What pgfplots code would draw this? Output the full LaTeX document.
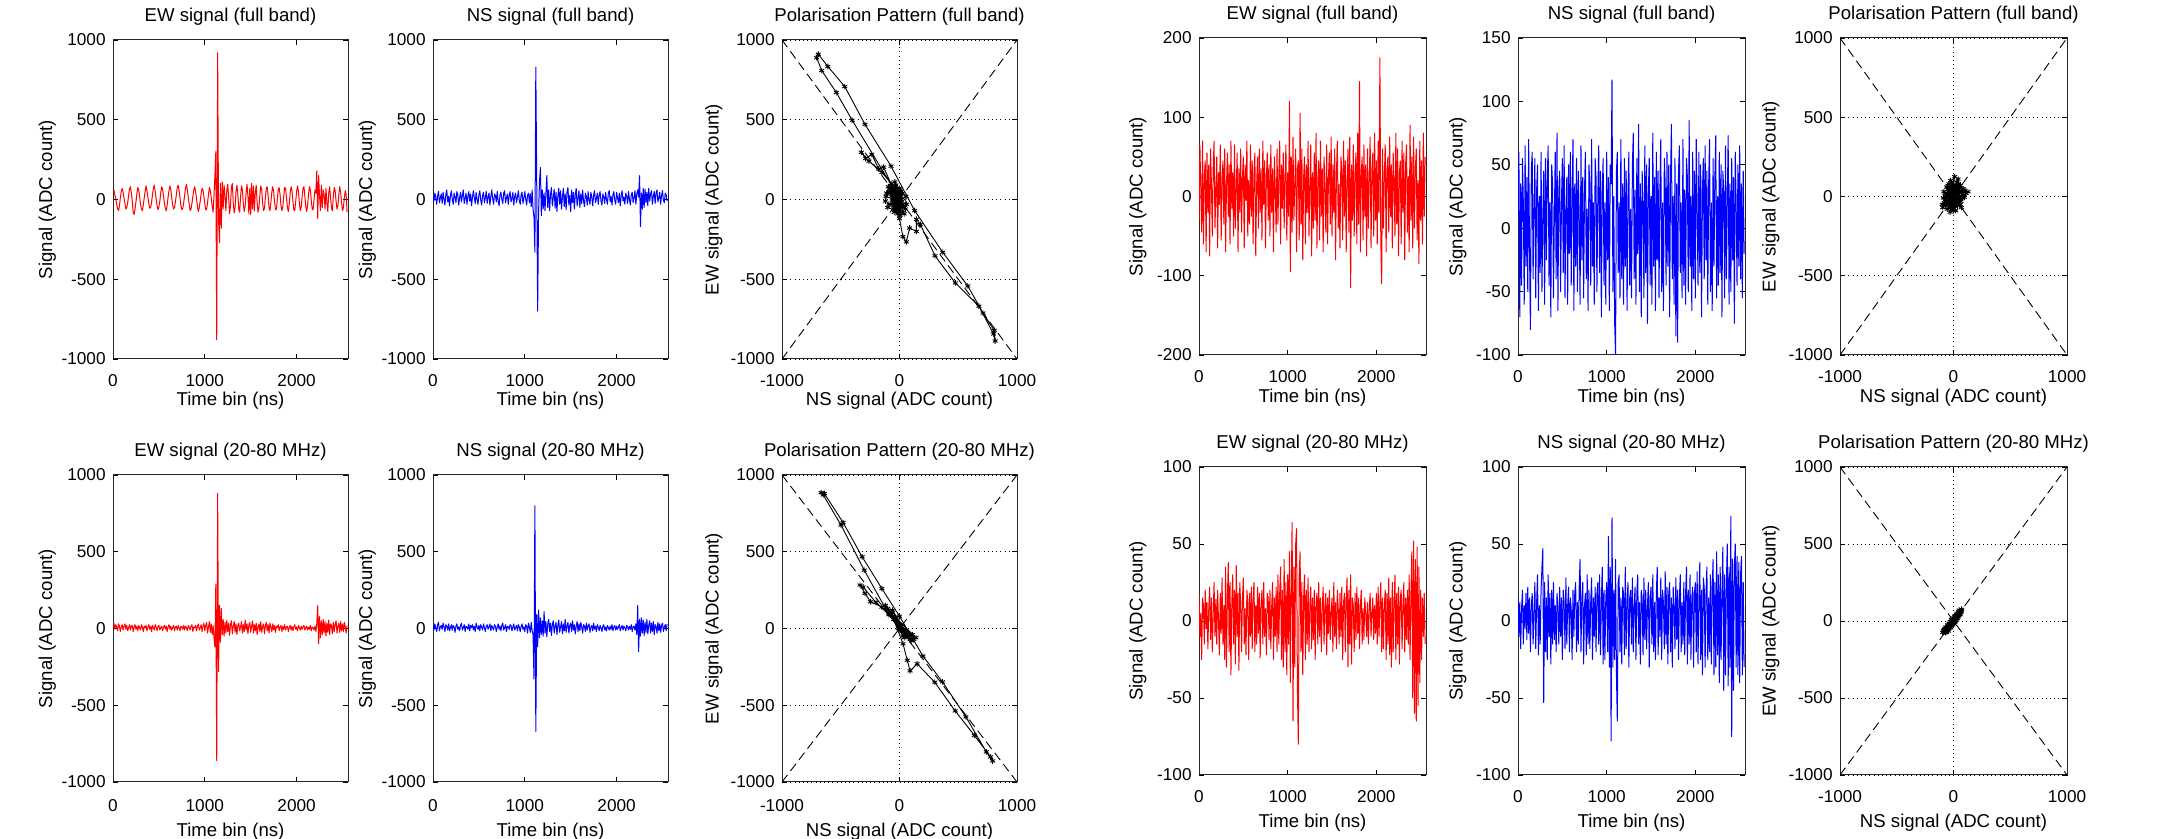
\documentclass[border=0pt]{standalone}
\usepackage{fontspec}
\setmainfont{Liberation Sans}
\usepackage{pgfplots}
\usepackage{pgfplotstable}
\pgfplotsset{compat=1.18}

% Antenna traces, left event: time (ns), EW full band, NS full band, EW 20-80 MHz, NS 20-80 MHz
\pgfplotstableread{
t ewf nsf ewb nsb
0 45 20 20 15
10 60 -10 35 -10
20 30 40 -5 30
30 5 15 25 5
40 -30 -30 10 -20
50 -55 25 -15 25
60 -70 50 30 40
70 -40 -20 15 -15
80 10 10 -20 10
90 50 35 10 20
100 70 -25 25 -5
110 45 45 -10 35
120 10 5 15 10
130 -25 -35 30 -20
140 -60 30 -5 25
150 -50 60 20 15
160 -20 -15 -15 -10
170 25 20 5 30
180 65 -40 25 -15
190 80 25 -10 5
200 40 55 15 25
210 -10 0 20 -10
220 -80 -30 -20 20
230 -95 40 10 10
240 -60 15 25 -25
250 -15 -20 -5 15
260 35 50 15 30
270 75 30 -15 -5
280 60 -35 20 10
290 20 10 5 -15
300 -30 45 -10 20
310 -60 -15 25 35
320 -70 25 10 -10
330 -35 60 -20 5
340 10 -25 15 25
350 50 5 5 -20
360 85 40 20 15
370 55 -30 -15 10
380 15 20 10 -5
390 -25 50 25 30
400 -55 -10 -5 -15
410 -50 35 15 20
420 -20 -40 -20 5
430 30 15 20 25
440 70 55 5 -10
450 90 10 -10 15
460 50 -25 25 -20
470 5 45 10 35
480 -40 0 -15 10
490 -65 -30 15 -5
500 -45 30 20 20
510 -10 55 -10 -15
520 40 -5 5 25
530 80 -35 15 10
540 65 25 -15 -10
550 25 45 10 30
560 -20 -20 20 5
570 -55 10 -5 -20
580 -70 50 15 15
590 -35 -25 -20 25
600 15 15 10 -5
610 55 40 25 10
620 85 -35 -5 30
630 60 20 15 -15
640 10 60 -10 20
650 -35 5 5 5
660 -60 -30 20 -10
670 -50 35 -15 25
680 -15 25 10 15
690 30 -15 15 -20
700 75 50 -10 10
710 90 -10 20 30
720 55 -40 5 -5
730 10 30 -15 15
740 -40 45 15 -15
750 -65 0 10 20
760 -55 -25 -5 35
770 -20 40 20 -10
780 25 55 -10 5
790 70 -20 15 25
800 95 10 5 -20
810 60 35 -15 15
820 15 -30 20 10
830 -30 25 10 -5
840 -70 50 -10 25
850 -60 -15 15 20
860 -25 5 25 -15
870 20 45 -20 10
880 60 -35 10 30
890 80 20 5 -10
900 50 40 20 5
910 5 -20 -15 20
920 -45 15 15 -15
930 -75 55 30 25
940 -50 -5 -10 10
950 -10 -30 5 -20
960 35 30 25 15
970 70 45 -20 30
980 60 -25 15 -5
990 20 10 35 10
1000 -25 50 -15 -20
1010 -65 0 20 25
1020 -60 -35 40 15
1030 -20 25 -30 -30
1040 30 40 10 35
1050 75 -20 45 10
1060 55 35 -25 -25
1070 10 -45 30 40
1080 -40 60 -40 -15
1090 -80 -60 20 -40
1100 20 -110 -60 -330
1110 150 -330 -120 800
1120 300 830 290 -670
1130 -880 100 -860 90
1140 920 -700 880 -120
1150 -130 -80 -280 120
1160 -270 110 150 -60
1170 100 200 -90 70
1180 -180 -100 130 -40
1190 110 60 -40 50
1200 -60 -60 60 -50
1210 90 40 -50 110
1220 20 -70 40 -30
1230 -70 40 -30 45
1240 60 150 55 -55
1250 95 -50 -20 30
1260 10 60 35 60
1270 -90 -70 -45 -20
1280 -40 30 25 35
1290 80 75 50 -45
1300 100 -40 -35 25
1310 -20 10 15 50
1320 -85 65 45 -30
1330 -50 -55 -25 15
1340 50 45 30 40
1350 90 -75 -40 -40
1360 30 20 20 20
1370 -60 70 35 55
1380 -80 -30 -15 -25
1390 20 55 10 10
1400 85 -60 45 45
1410 60 15 -30 -35
1420 -30 70 25 30
1430 -75 -45 -20 -15
1440 -40 35 55 60
1450 40 -65 -10 -25
1460 95 50 30 15
1470 20 75 -35 40
1480 -90 -35 20 -30
1490 70 25 40 20
1500 -95 -75 -25 35
1510 100 60 15 -20
1520 -60 -20 50 50
1530 85 45 -30 -10
1540 -70 -60 25 25
1550 40 30 -15 -35
1560 90 70 35 15
1570 -20 -40 -40 45
1580 -80 10 10 -20
1590 -50 55 30 30
1600 30 -50 -20 -15
1610 85 35 45 40
1620 60 -25 -25 10
1630 -20 60 15 -30
1640 -70 -10 30 25
1650 -55 -45 -35 15
1660 10 40 20 -20
1670 70 20 40 35
1680 80 -35 -15 -10
1690 20 50 25 20
1700 -50 -5 -30 30
1710 -70 -30 35 -25
1720 -20 45 10 10
1730 45 15 -20 20
1740 80 -40 30 -15
1750 50 30 -10 35
1760 -15 55 20 -5
1770 -65 -20 -25 15
1780 -60 5 15 -20
1790 0 40 5 25
1800 60 -30 25 10
1810 75 25 -15 -15
1820 30 50 10 20
1830 -40 -10 20 5
1840 -70 -35 -20 -20
1850 -45 35 15 15
1860 20 15 -5 25
1870 75 -25 25 -10
1880 70 45 -10 10
1890 10 0 10 -15
1900 -50 -30 15 20
1910 -75 40 -20 5
1920 -30 55 5 -10
1930 40 -15 20 15
1940 80 20 -10 -5
1950 55 -35 15 25
1960 -10 30 -15 -15
1970 -65 50 10 10
1980 -70 -5 25 20
1990 -15 -30 -5 -10
2000 50 45 10 15
2010 85 10 -15 -5
2020 50 -20 20 10
2030 -20 40 5 25
2040 -70 -40 -10 -15
2050 -50 25 15 5
2060 15 55 -5 20
2070 70 -10 10 -10
2080 80 15 20 15
2090 20 -30 -10 5
2100 -45 40 5 -15
2110 -75 20 15 20
2120 -35 -25 -10 10
2130 35 50 10 -10
2140 80 0 -5 15
2150 60 -35 20 -5
2160 -5 30 -15 25
2170 -60 45 10 -20
2180 -65 -20 5 10
2190 0 10 -10 15
2200 60 55 15 -10
2210 40 -30 -20 30
2220 180 35 30 -40
2230 -120 60 150 150
2240 150 15 -100 -150
2250 20 150 80 60
2260 -70 -170 -60 -50
2270 90 40 50 70
2280 -50 -60 -40 -30
2290 60 70 60 55
2300 30 -50 -30 -45
2310 -60 65 45 40
2320 70 -20 -50 -25
2330 -20 45 35 60
2340 -75 -40 -25 -35
2350 40 70 55 20
2360 80 -10 -40 50
2370 10 35 30 -30
2380 -55 55 20 35
2390 -70 -30 -35 -20
2400 20 20 40 45
2410 75 50 -20 -40
2420 55 -25 25 25
2430 -10 40 50 15
2440 -60 60 -30 -30
2450 -40 -15 15 40
2460 30 10 35 -15
2470 80 45 -25 30
2480 45 -30 45 -25
2490 -20 25 -15 20
2500 -70 55 30 35
2510 -50 -5 -20 -20
2520 10 -20 40 10
2530 55 40 10 25
2540 30 30 -30 -15
2550 -80 -10 20 30
}\lefttab

% Antenna traces, right event: same columns
\pgfplotstableread{
t ewf nsf ewb nsb
0 -30 10 18 15
10 65 60 -10 -10
20 10 -70 5 12
30 -45 35 -25 -18
40 70 -45 15 8
50 -60 55 10 20
60 25 20 -15 -15
70 45 -60 20 10
80 -70 65 -5 -5
90 55 -30 12 18
100 -20 40 -18 -12
110 40 -50 8 22
120 -75 70 22 -8
130 60 -20 -12 15
140 15 -80 15 -20
150 -50 45 -20 10
160 35 60 5 18
170 70 -40 25 -15
180 -40 15 -10 5
190 5 55 14 25
200 50 -55 -15 -18
210 -65 30 20 12
220 30 50 0 30
230 -10 -65 -22 -22
240 65 25 18 10
250 -55 -35 -8 -15
260 20 60 28 20
270 45 -50 -15 35
280 -35 10 10 47
290 60 45 -25 -53
300 -70 -60 35 25
310 15 55 -30 -20
320 55 -25 15 15
330 -25 40 38 -25
340 40 65 -20 30
350 -60 -45 25 -10
360 70 20 -35 18
370 -15 -70 12 -28
380 30 50 30 20
390 -50 35 -15 -15
400 65 -55 20 25
410 -40 10 -28 -12
420 10 60 36 10
430 55 -40 -10 -20
440 -70 75 18 18
450 35 -65 -32 8
460 -20 30 25 -15
470 60 45 10 22
480 -45 -50 -20 -10
490 25 20 15 15
500 50 55 28 -25
510 -65 -35 -15 20
520 40 65 8 12
530 -5 -55 -22 -18
540 70 15 20 28
550 -50 40 12 -15
560 20 -60 -25 10
570 -35 50 18 22
580 65 -20 -10 -20
590 -25 60 22 15
600 45 -45 -18 8
610 -60 25 15 -25
620 30 70 25 20
630 55 -65 -20 -10
640 -75 35 10 18
650 15 -30 -15 25
660 50 55 22 -20
670 -40 -50 -8 12
680 60 45 18 -15
690 -20 10 -24 22
700 35 -60 12 40
710 -55 65 20 -20
720 70 -25 -15 15
730 -10 40 25 25
740 45 -55 -10 -28
750 -65 30 8 10
760 25 60 -22 18
770 55 -40 18 -22
780 -30 15 15 30
790 40 -65 -12 -15
800 -50 50 20 20
810 65 35 -18 -18
820 -20 -45 10 12
830 35 70 25 28
840 -70 -30 -25 -25
850 50 20 15 15
860 10 -60 -10 -10
870 -45 55 22 22
880 60 40 -20 -20
890 -35 -50 30 18
900 25 25 -15 25
910 70 65 18 -15
920 -60 -35 35 30
930 40 45 -25 -22
940 -15 -70 20 12
950 55 30 -30 35
960 -40 55 40 -28
970 20 -45 -20 20
980 65 20 25 -25
990 -55 -60 -35 15
1000 30 60 30 25
1010 -25 -25 -15 -20
1020 120 40 45 55
1030 -95 -65 -40 -30
1040 50 50 20 35
1050 -45 35 64 -78
1060 75 117 -65 67
1070 -30 -50 35 -30
1080 15 25 -30 20
1090 60 -75 50 -25
1100 -70 -100 60 40
1110 35 45 -45 -35
1120 45 60 -80 -65
1130 -55 -35 30 25
1140 105 20 45 30
1150 -35 -55 -20 -20
1160 60 70 25 15
1170 -80 -40 -35 -28
1180 25 35 15 22
1190 50 -60 30 18
1200 -60 55 -25 -22
1210 40 -30 20 35
1220 -20 45 -15 -18
1230 70 -65 28 12
1240 -50 25 -20 25
1250 15 60 10 -30
1260 65 -45 22 15
1270 -75 15 -18 20
1280 30 -55 15 -15
1290 -40 50 -12 28
1300 55 75 20 -20
1310 -30 -40 -25 10
1320 80 30 12 22
1330 -65 -60 18 -25
1340 20 55 -15 18
1350 45 -20 25 30
1360 -55 82 -10 -15
1370 70 -50 15 12
1380 -25 35 -20 -28
1390 35 -70 8 20
1400 -70 45 22 15
1410 50 20 -15 -22
1420 10 -55 10 28
1430 -45 65 18 -12
1440 65 -35 -22 20
1450 -60 50 15 -18
1460 25 -75 -8 10
1470 55 30 20 25
1480 -35 55 -12 -30
1490 75 -45 5 15
1500 -50 25 15 22
1510 40 -60 -20 -15
1520 -20 75 25 30
1530 60 -30 -10 -20
1540 -80 40 12 12
1550 30 -65 -18 -25
1560 70 60 20 18
1570 -40 -25 8 35
1580 15 45 -15 -22
1590 -65 -55 18 15
1600 50 30 -10 -10
1610 35 70 22 28
1620 -55 -50 -25 -25
1630 70 20 12 20
1640 -25 -65 18 12
1650 45 55 -20 -18
1660 -70 35 15 32
1670 20 -45 28 -15
1680 60 60 -30 22
1690 -45 -30 20 -28
1700 75 50 -15 18
1710 -115 -70 30 25
1720 40 40 -28 -20
1730 -30 82 15 15
1740 65 -40 10 -30
1750 -50 25 -20 22
1760 25 -60 18 10
1770 55 55 -12 -18
1780 -60 -85 22 28
1790 80 35 -8 -12
1800 -35 -90 15 20
1810 145 45 -18 -25
1820 -70 65 10 15
1830 30 -35 20 30
1840 50 20 -15 -20
1850 -55 -55 8 12
1860 65 70 -12 -15
1870 -25 -45 15 25
1880 40 30 5 -22
1890 -75 -60 -10 18
1900 60 55 12 35
1910 -40 40 -15 -28
1920 20 -50 8 20
1930 75 85 18 -15
1940 -65 -30 -10 30
1950 35 25 5 -25
1960 55 -65 15 15
1970 -50 60 -12 22
1980 80 -40 10 -30
1990 -30 45 -8 18
2000 45 -55 18 25
2010 -60 70 -15 -20
2020 70 20 22 32
2030 -20 -45 -10 -28
2040 175 60 12 15
2050 -55 -35 25 38
2060 -110 50 -20 -25
2070 60 -70 15 20
2080 -40 30 -18 -35
2090 25 55 10 28
2100 65 -40 20 22
2110 -70 65 -25 -30
2120 35 -25 18 18
2130 50 45 -15 35
2140 -45 -60 28 -25
2150 75 35 -22 15
2160 -25 70 15 -20
2170 40 -50 -30 30
2180 -65 20 25 -28
2190 55 -65 -20 22
2200 20 55 12 40
2210 -50 -30 30 -35
2220 80 40 -25 25
2230 -35 73 18 -30
2240 60 -55 -15 45
2250 -75 25 22 -22
2260 30 -45 -28 30
2270 45 60 15 -40
2280 -60 -35 20 35
2290 70 50 -18 -25
2300 -20 -70 10 20
2310 55 45 25 48
2320 -80 30 -20 -45
2330 40 -55 15 30
2340 65 65 -12 -35
2350 -45 -40 20 25
2360 25 20 -15 50
2370 -70 73 30 -42
2380 90 -60 -25 35
2390 -30 35 18 -30
2400 50 -50 45 68
2410 -65 55 -50 -75
2420 75 -25 52 40
2430 -40 40 -60 -45
2440 35 -75 40 35
2450 60 60 -65 50
2460 -55 20 48 -30
2470 20 -45 -55 42
2480 -85 50 35 -35
2490 70 -30 -40 38
2500 -30 65 20 -40
2510 45 -40 -25 30
2520 -60 35 15 42
2530 80 -55 -10 -35
2540 -25 45 18 25
2550 50 -20 -15 -30
}\righttab

% Polarisation trajectories (NS, EW) of the left event, full band
\pgfplotstableread{
ns ew
-10 20
-50 60
0 -40
-60 10
10 50
-40 -60
20 0
-70 70
-20 -30
-45 40
15 -80
-30 90
-5 -10
-65 30
5 60
-55 -20
30 -50
-35 80
-15 -90
-80 40
-110 40
-120 -10
-95 80
50 -60
55 20
-100 -50
40 -90
-135 203
-178 192
-236 283
-288 257
-325 296
-260 240
-150 170
-70 100
-20 30
-403 497
-538 671
-662 808
-705 889
-691 911
-610 834
-466 708
-294 471
-72 209
129 -70
368 -331
581 -542
711 -712
806 -821
814 -887
800 -843
676 -669
475 -523
302 -353
178 -157
144 -124
144 -200
86 -179
58 -266
29 -233
0 -120
-50 -40
0 70
-60 -10
10 20
-40 110
-10 -70
-75 50
20 -30
-30 60
5 -100
-55 0
25 40
-45 -80
-5 30
-65 80
-115 20
60 -30
-90 -30
15 -20
-25 50
-50 -60
0 10
-35 -5
}\polfull

% Polarisation trajectories (NS, EW) of the left event, 20-80 MHz
\pgfplotstableread{
ns ew
-60 80
20 -10
-100 130
40 -40
-20 50
80 -60
-80 110
10 20
120 -70
-40 60
60 -30
-120 150
30 -50
-10 30
100 -80
-70 90
50 -20
-30 70
140 -60
0 10
-150 140
-246 174
-294 228
-336 283
-310 270
-200 170
-90 90
-300 380
-498 674
-649 870
-667 885
-640 880
-480 690
-318 467
-150 260
0 80
200 -180
366 -348
565 -576
739 -804
793 -863
775 -837
637 -696
474 -537
300 -350
150 -230
90 -276
66 -207
30 -100
-50 60
70 -50
-90 100
20 -20
110 -40
-20 40
40 -60
-60 120
90 -70
-10 0
}\polband

% Polarisation (NS, EW) of the right event, full band
\pgfplotstableread{
ns ew
0 20
-40 -30
30 60
-60 10
50 -20
-20 90
10 -60
-80 -40
70 30
-30 50
20 -90
-50 70
90 10
-10 -20
40 110
-70 -60
60 -50
-40 30
20 -30
-90 -10
100 40
-20 -70
30 20
-60 60
128 30
-30 -98
10 125
-45 -20
55 55
-100 -50
80 -10
-15 40
35 -60
-75 20
45 80
-5 -45
25 15
-55 -80
110 20
-35 70
15 -15
-85 30
65 -30
-25 100
5 -75
-65 -25
85 50
-10 10
40 -40
-50 45
95 -5
-20 -50
30 90
-70 0
50 25
0 -90
-40 80
70 -70
-30 -10
20 45
-95 -70
60 70
-15 -30
45 -10
-60 -45
10 60
-30 15
35 35
-5 -5
}\polfullR

% Polarisation (NS, EW) of the right event, 20-80 MHz
\pgfplotstableread{
ns ew
-96 -74
-80 -55
-60 -70
-70 -40
-40 -50
-50 -25
-20 -30
-30 -5
0 -15
-10 10
20 5
10 30
40 25
30 50
60 45
50 70
72 76
55 40
35 15
15 -5
-5 -25
-25 -45
-45 -65
-65 -60
-85 -65
-75 -50
-55 -35
-35 -20
-15 -10
5 0
25 15
45 35
65 55
60 65
40 40
20 25
0 5
-20 -15
-40 -35
-60 -55
-80 -70
-90 -60
-70 -75
-50 -40
-30 -30
-10 -5
10 10
30 30
50 50
70 65
45 60
25 40
5 20
-15 0
-35 -15
-55 -45
-75 -55
-60 -45
-40 -20
-20 -5
0 -5
20 15
40 45
60 55
30 20
10 -10
-10 -20
-30 -40
-50 -55
-20 10
15 35
}\polbandR

\pgfplotsset{
  base/.style={
    scale only axis,
    anchor=south west,
    every axis title shift=0pt,
    tick align=inside, tick pos=both,
    major tick length=2.6pt,
    axis line style={line width=0.5pt, black!85},
    every tick/.style={black, line width=0.45pt},
    /pgf/number format/assume math mode=true,
    /pgf/number format/1000 sep={},
    tick label style={font=\fontsize{8.6}{9}\selectfont},
    yticklabel style={anchor=east, inner sep=0pt, xshift=-3.5pt},
    label style={font=\fontsize{9.3}{10}\selectfont},
    title style={font=\fontsize{9.3}{10}\selectfont, anchor=center},
    xlabel style={anchor=center},
    ylabel style={anchor=center},
    every axis plot/.append style={line join=round},
  },
  % column widths of the two events
  colL/.style={width=117.5pt},
  colR/.style={width=113.5pt},
  % row geometry: height, title, tick labels and x label placement
  rowLa/.style={base, colL, height=159.5pt,
    xticklabel style={anchor=center, inner sep=0pt, yshift=-11pt},
    title style={at={(axis description cs:0.5,1.072)}},
    xlabel style={at={(axis description cs:0.5,-0.132)}}},
  rowLb/.style={base, colL, height=153.5pt,
    xticklabel style={anchor=center, inner sep=0pt, yshift=-12pt},
    title style={at={(axis description cs:0.5,1.075)}},
    xlabel style={at={(axis description cs:0.5,-0.163)}}},
  rowRa/.style={base, colR, height=158.5pt,
    xticklabel style={anchor=center, inner sep=0pt, yshift=-11pt},
    title style={at={(axis description cs:0.5,1.073)}},
    xlabel style={at={(axis description cs:0.5,-0.135)}}},
  rowRb/.style={base, colR, height=154pt,
    xticklabel style={anchor=center, inner sep=0pt, yshift=-11pt},
    title style={at={(axis description cs:0.5,1.075)}},
    xlabel style={at={(axis description cs:0.5,-0.155)}}},
  ylab/.style={ylabel style={at={(axis description cs:-#1,0.5)}}},
  sig/.style={xmin=0, xmax=2560, xtick={0,1000,2000},
    xlabel={Time bin (ns)}, ylabel={Signal (ADC count)}},
  pol/.style={xmin=-1000, xmax=1000, ymin=-1000, ymax=1000,
    xtick={-1000,0,1000}, ytick={-1000,-500,0,500,1000},
    grid=major, grid style={black, line width=0.45pt, dash pattern=on 0.5pt off 1.6pt},
    xlabel={NS signal (ADC count)}, ylabel={EW signal (ADC count)}},
  diag/.style={black, line width=0.45pt, dash pattern=on 4.5pt off 2.5pt, mark=none},
  trace/.style={line width=0.5pt, mark=none},
  walk/.style={black, line width=0.45pt, mark=asterisk, mark size=1.4pt,
    mark options={line width=0.45pt}},
}

\begin{document}
\begin{tikzpicture}
\useasboundingbox (0,0) rectangle (1079pt,419.5pt);

%----------------- left event, full band -----------------
\begin{axis}[rowLa, sig, ylab=0.28, at={(56.5pt,240pt)}, ymin=-1000, ymax=1000,
  ytick={-1000,-500,0,500,1000}, title={EW signal (full band)}]
  \addplot[trace, red] table[x=t, y=ewf] {\lefttab};
\end{axis}
\begin{axis}[rowLa, sig, ylab=0.28, at={(216.5pt,240pt)}, ymin=-1000, ymax=1000,
  ytick={-1000,-500,0,500,1000}, title={NS signal (full band)}]
  \addplot[trace, blue] table[x=t, y=nsf] {\lefttab};
\end{axis}
\begin{axis}[rowLa, pol, ylab=0.29, at={(391pt,240pt)}, title={Polarisation Pattern (full band)}]
  \addplot[diag] coordinates {(-1000,-1000) (1000,1000)};
  \addplot[diag] coordinates {(-1000,1000) (1000,-1000)};
  \addplot[walk] table[x=ns, y=ew] {\polfull};
\end{axis}

%----------------- left event, 20-80 MHz -----------------
\begin{axis}[rowLb, sig, ylab=0.28, at={(56.5pt,28.5pt)}, ymin=-1000, ymax=1000,
  ytick={-1000,-500,0,500,1000}, title={EW signal (20-80 MHz)}]
  \addplot[trace, red] table[x=t, y=ewb] {\lefttab};
\end{axis}
\begin{axis}[rowLb, sig, ylab=0.28, at={(216.5pt,28.5pt)}, ymin=-1000, ymax=1000,
  ytick={-1000,-500,0,500,1000}, title={NS signal (20-80 MHz)}]
  \addplot[trace, blue] table[x=t, y=nsb] {\lefttab};
\end{axis}
\begin{axis}[rowLb, pol, ylab=0.29, at={(391pt,28.5pt)}, title={Polarisation Pattern (20-80 MHz)}]
  \addplot[diag] coordinates {(-1000,-1000) (1000,1000)};
  \addplot[diag] coordinates {(-1000,1000) (1000,-1000)};
  \addplot[walk] table[x=ns, y=ew] {\polband};
\end{axis}

%----------------- right event, full band -----------------
\begin{axis}[rowRa, sig, ylab=0.27, at={(599.5pt,242pt)}, ymin=-200, ymax=200,
  ytick={-200,-100,0,100,200}, title={EW signal (full band)}]
  \addplot[trace, red] table[x=t, y=ewf] {\righttab};
\end{axis}
\begin{axis}[rowRa, sig, ylab=0.265, at={(759pt,242pt)}, ymin=-100, ymax=150,
  ytick={-100,-50,0,50,100,150}, title={NS signal (full band)}]
  \addplot[trace, blue] table[x=t, y=nsf] {\righttab};
\end{axis}
\begin{axis}[rowRa, pol, ylab=0.305, at={(920pt,242pt)}, title={Polarisation Pattern (full band)}]
  \addplot[diag] coordinates {(-1000,-1000) (1000,1000)};
  \addplot[diag] coordinates {(-1000,1000) (1000,-1000)};
  \addplot[walk] table[x=ns, y=ew] {\polfullR};
\end{axis}

%----------------- right event, 20-80 MHz -----------------
\begin{axis}[rowRb, sig, ylab=0.27, at={(599.5pt,32pt)}, ymin=-100, ymax=100,
  ytick={-100,-50,0,50,100}, title={EW signal (20-80 MHz)}]
  \addplot[trace, red] table[x=t, y=ewb] {\righttab};
\end{axis}
\begin{axis}[rowRb, sig, ylab=0.265, at={(759pt,32pt)}, ymin=-100, ymax=100,
  ytick={-100,-50,0,50,100}, title={NS signal (20-80 MHz)}]
  \addplot[trace, blue] table[x=t, y=nsb] {\righttab};
\end{axis}
\begin{axis}[rowRb, pol, ylab=0.305, at={(920pt,32pt)}, title={Polarisation Pattern (20-80 MHz)}]
  \addplot[diag] coordinates {(-1000,-1000) (1000,1000)};
  \addplot[diag] coordinates {(-1000,1000) (1000,-1000)};
  \addplot[walk] table[x=ns, y=ew] {\polbandR};
\end{axis}
\end{tikzpicture}
\end{document}
